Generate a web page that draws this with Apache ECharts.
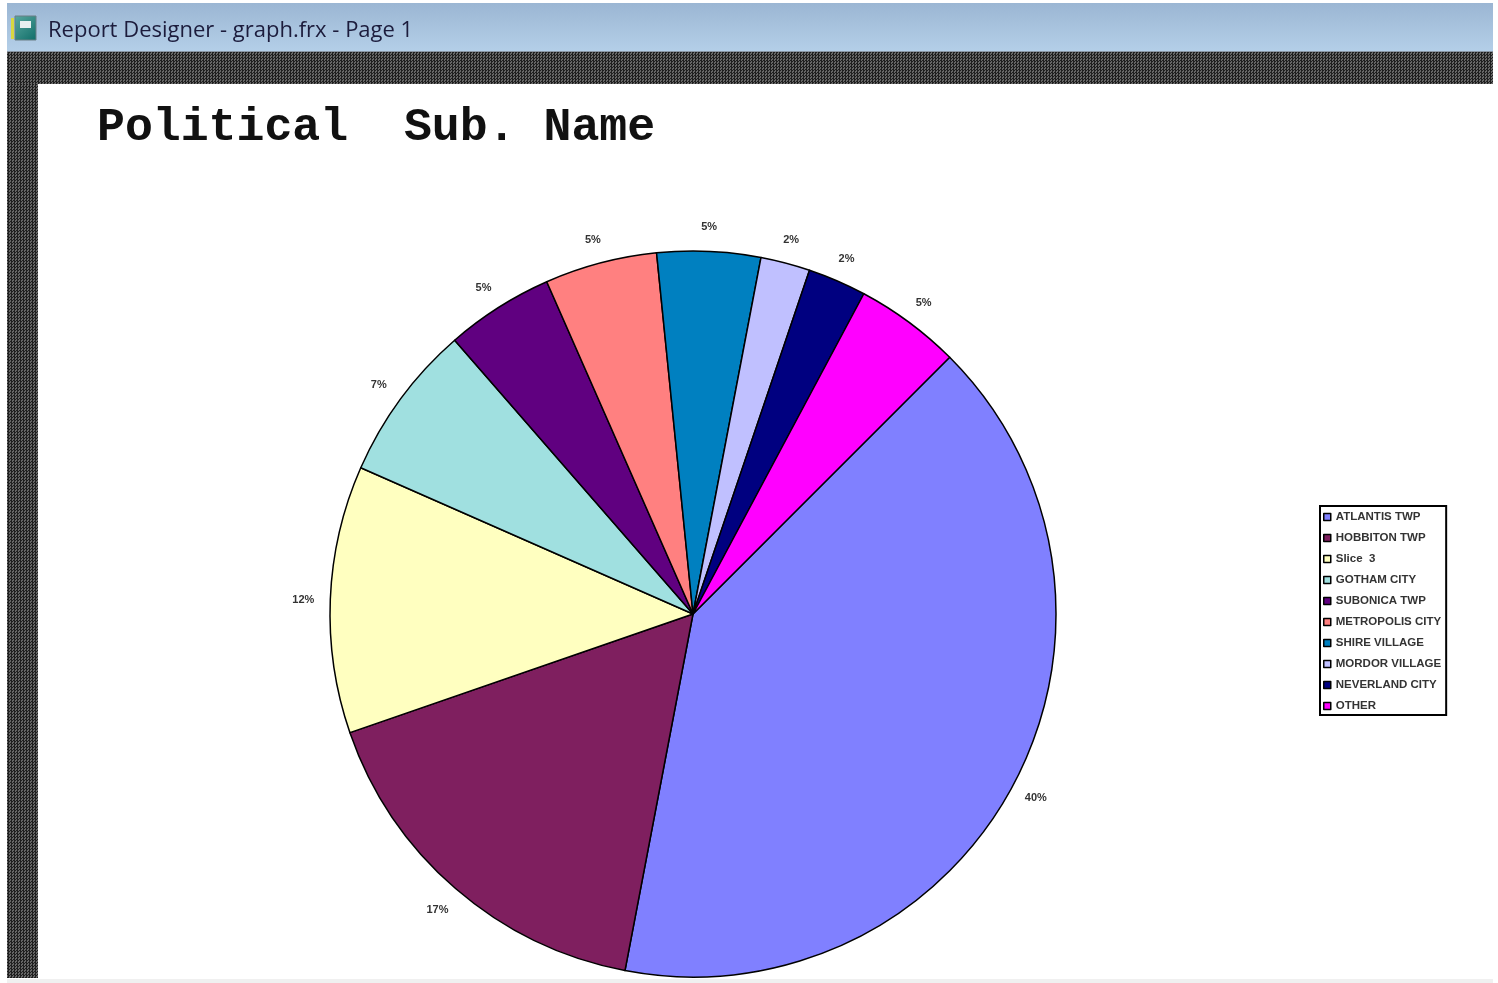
<!DOCTYPE html>
<html>
<head>
<meta charset="utf-8">
<style>
html,body{margin:0;padding:0;width:1498px;height:983px;background:#fff;overflow:hidden}
.hatch{position:absolute;background-color:#333;background-image:conic-gradient(#1f1f1f 25%,#666 0 50%,#1f1f1f 0 75%,#666 0);background-size:3px 3px}
#bar{position:absolute;left:7px;top:3px;width:1486px;height:49px;background:linear-gradient(#9bb6d3,#b4cfe8);border-bottom:1px solid #8a97a5;box-sizing:border-box}
#strip{position:absolute;left:7px;top:979px;width:1486px;height:4px;background:#f0f0f0}
#chart{position:absolute;left:0;top:0;width:1498px;height:983px}
</style>
</head>
<body>
<div id="bar"></div>
<div class="hatch" style="left:7px;top:52px;width:1486px;height:32px"></div>
<div class="hatch" style="left:7px;top:84px;width:31px;height:894px"></div>
<div id="strip"></div>
<div id="chart"></div>
<script src="https://cdn.jsdelivr.net/npm/echarts@6/dist/echarts.min.js"></script>
<script>
const categories = ['ATLANTIS TWP','HOBBITON TWP','Slice  3','GOTHAM CITY','SUBONICA TWP','METROPOLIS CITY','SHIRE VILLAGE','MORDOR VILLAGE','NEVERLAND CITY','OTHER'];
const values = [40.5,16.7,11.9,7.0,4.8,5.0,4.6,2.2,2.6,4.7];
const percentLabels = ['40%','17%','12%','7%','5%','5%','5%','2%','2%','5%'];
const colors = ['#8080FF','#7F1F5F','#FFFFC0','#A0E0E0','#600080','#FF8080','#0080C0','#C0C0FF','#000080','#FF00FF'];
const chartTitle = 'Political  Sub. Name';
const windowTitle = 'Report Designer - graph.frx - Page 1';

const data = categories.map((name,i)=>({name,value:values[i],itemStyle:{color:colors[i]}}));
const chart = echarts.init(document.getElementById('chart'),null,{renderer:'canvas'});
chart.setOption({
  animation:false,
  backgroundColor:'transparent',
  title:{
    text:chartTitle,left:97,top:102,padding:0,
    textStyle:{fontFamily:'"Liberation Mono",monospace',fontWeight:'bold',fontSize:46.5,color:'#111',lineHeight:52}
  },
  legend:{
    orient:'vertical',left:1320,top:506,
    data:categories,
    padding:[5,5,3,3],itemGap:9,itemWidth:7,itemHeight:7,
    borderColor:'#000',borderWidth:2,backgroundColor:'#fff',borderRadius:0,
    icon:'rect',
    itemStyle:{borderColor:'#000',borderWidth:1.5},
    textStyle:{fontFamily:'"Liberation Sans",Arial,sans-serif',fontWeight:'bold',fontSize:11.5,color:'#333',lineHeight:12,padding:[0,0,0,0]}
  },
  graphic:[
    {type:'rect',shape:{x:15,y:16,width:21,height:24},style:{fill:new echarts.graphic.LinearGradient(0,0,1,1,[{offset:0,color:'#5aa8a0'},{offset:1,color:'#0f6d68'}]),stroke:'#6b7f85',lineWidth:1}},
    {type:'rect',shape:{x:11,y:18,width:3,height:21},style:{fill:'#d8d840'}},
    {type:'rect',shape:{x:20,y:21,width:11,height:7},style:{fill:'#e8f0f0'}},
    {type:'text',x:48,y:20,style:{text:windowTitle,font:'22px "Open Sans",sans-serif',fill:'#1c1c3c'}}
  ],
  series:[
    {
      type:'pie',center:[693,614],radius:363,startAngle:45,clockwise:true,
      data,
      label:{show:false},labelLine:{show:false},
      itemStyle:{borderColor:'#000',borderWidth:1.5},
      emphasis:{disabled:true}
    },
    {
      type:'pie',center:[692,616],radius:[384,388],startAngle:45,clockwise:true,silent:true,
      data:categories.map((name,i)=>({name,value:values[i],itemStyle:{color:'transparent'}})),
      avoidLabelOverlap:false,minShowLabelAngle:0,
      label:{show:true,position:'inside',formatter:p=>percentLabels[p.dataIndex],fontFamily:'"Liberation Sans",Arial,sans-serif',fontWeight:'bold',fontSize:11,color:'#333'},
      labelLine:{show:false},
      itemStyle:{borderWidth:0},
      emphasis:{disabled:true}
    }
  ]
});
</script>
</body>
</html>
